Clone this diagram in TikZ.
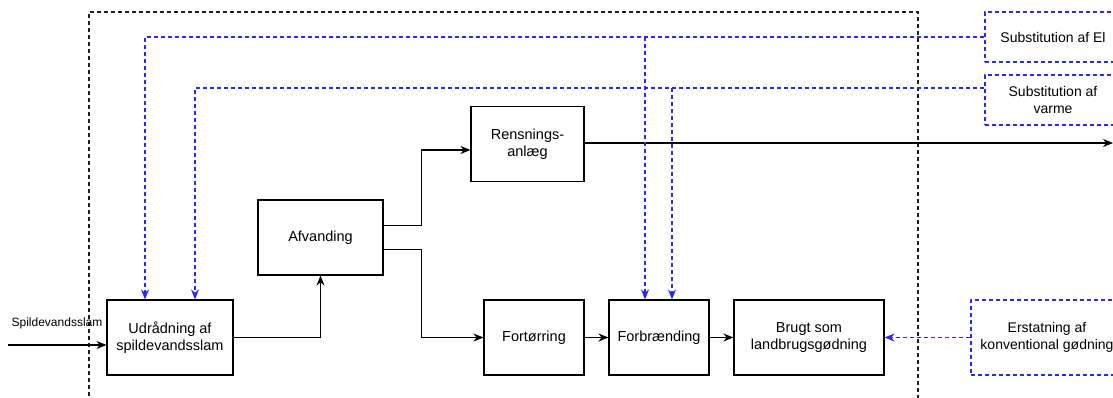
\documentclass[tikz,border=0pt]{standalone}
\usepackage{fontspec}
\setmainfont{Liberation Sans}
\usetikzlibrary{arrows.meta}
\definecolor{flowblue}{RGB}{40,40,250}
\definecolor{framegray}{RGB}{30,30,30}
\tikzset{
  proc/.style={draw=black, line width=1.1pt, fill=white, minimum width=#1, minimum height=75pt,
               align=center, font=\fontsize{14.5}{17}\selectfont, inner sep=2pt},
  proc/.default=100pt,
  subst/.style={draw=flowblue, line width=1.1pt, dash pattern=on 4pt off 3pt, fill=white,
                align=center, font=\fontsize{14}{16.5}\selectfont, inner sep=2pt},
  flow/.style={draw=black, line width=1.1pt, -{Stealth[length=10pt,width=8pt]}},
  bflow/.style={draw=flowblue, line width=1.1pt, dash pattern=on 4pt off 3pt,
                -{Stealth[length=10pt,width=8pt]}},
  frame/.style={draw=framegray, line width=1.1pt, dash pattern=on 4pt off 3pt}
}
\begin{document}
\begin{tikzpicture}[x=1pt,y=-1pt]
\useasboundingbox (0,0) rectangle (1113,398);
\clip (0,0) rectangle (1113,398);
\fill[white] (0,0) rectangle (1113,398);

% system boundary
\draw[frame] (89,410) -- (89,12) -- (918,12) -- (918,410);

% process steps
\node[proc=126pt] (udr) at (170,337.5) {Udrådning af\\spildevandsslam};
\node[proc=125pt] (afv) at (320.5,237.5) {Afvanding};
\node[proc=113pt] (ren) at (527.5,144) {Rensnings-\\anlæg};
\node[proc=100pt] (fort) at (534,337.5) {Fortørring};
\node[proc=100pt] (forb) at (659,337.5) {Forbrænding};
\node[proc=150pt] (brug) at (809,337.5) {Brugt som\\landbrugsgødning};

% substituted products
\node[subst, minimum width=136pt, minimum height=50pt] (el) at (1053,37) {Substitution af El};
\node[subst, minimum width=136pt, minimum height=50pt] (varme) at (1053,100) {Substitution af\\varme};
\node[subst, minimum width=152pt, minimum height=75pt] (erst) at (1047,337.5) {Erstatning af\\konventional gødning};

% inflow
\coordinate (inflow) at (8,345);
\node[font=\fontsize{12}{14}\selectfont, anchor=south] (inlabel) at (57,333) {Spildevandsslam};
\draw[flow] (inflow) -- (udr.west |- inflow);

% main flow
\draw[flow] (udr.east) -| (afv.south);
\draw[flow] ([yshift=12pt]afv.east) -- ++(38,0) |- ([yshift=-6pt]ren.west);
\draw[flow] ([yshift=-12pt]afv.east) -- ++(38,0) |- (fort.west);
\draw[flow] (fort) -- (forb);
\draw[flow] (forb) -- (brug);
\coordinate (outflow) at (1113,143);
\draw[flow] (ren.east |- outflow) -- (outflow);

% substitution links
\coordinate (elA) at (145,37);
\coordinate (elB) at (645,37);
\coordinate (vaA) at (195,88);
\coordinate (vaB) at (672,88);
\draw[bflow] (el.west) -- (elA) -- (elA |- udr.north);
\draw[bflow] (elB) -- (elB |- forb.north);
\draw[bflow] (varme.west |- vaA) -- (vaA) -- (vaA |- udr.north);
\draw[bflow] (vaB) -- (vaB |- forb.north);
\draw[bflow] (erst.west) -- (brug.east);
\end{tikzpicture}
\end{document}
